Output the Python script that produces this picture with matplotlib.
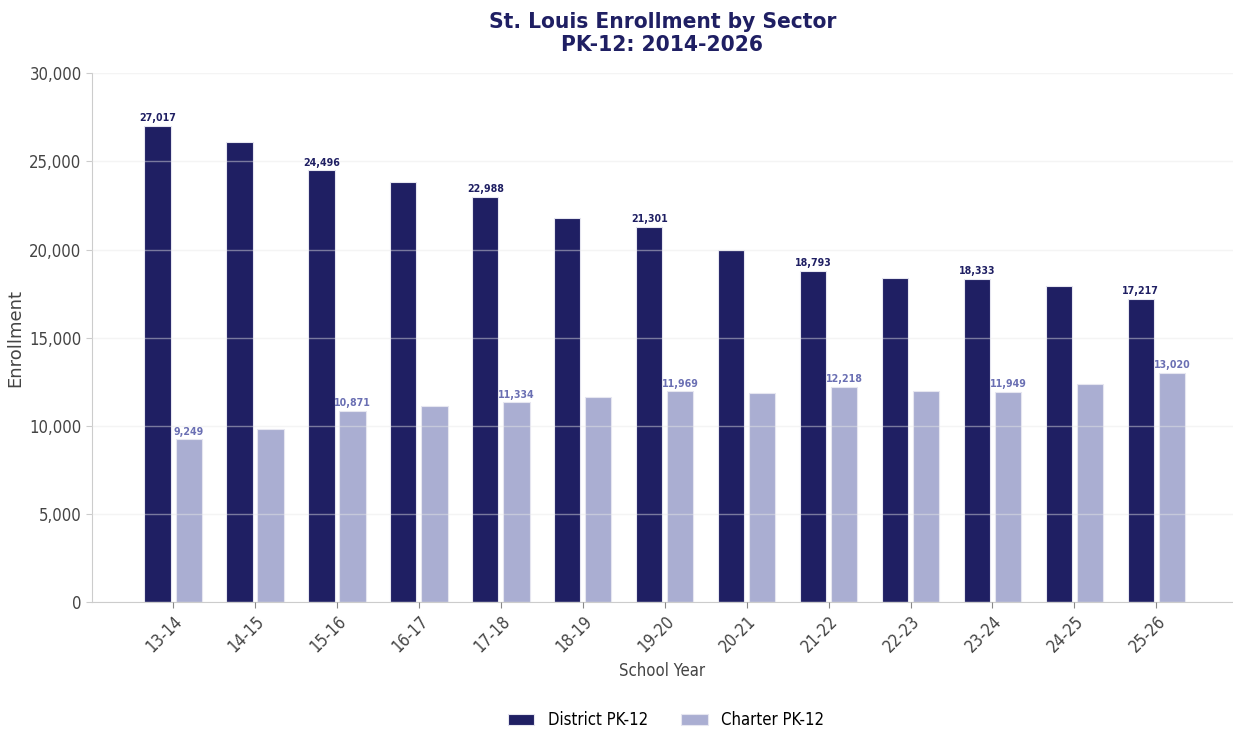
import matplotlib.pyplot as plt
import numpy as np
from matplotlib.ticker import FuncFormatter

plt.rcParams['font.family'] = ['DejaVu Sans']
plt.rcParams['font.stretch'] = 'condensed'

years = ["13-14", "14-15", "15-16", "16-17", "17-18", "18-19", "19-20",
         "20-21", "21-22", "22-23", "23-24", "24-25", "25-26"]
district = [27017, 26120, 24496, 23820, 22988, 21780, 21301,
            19990, 18793, 18360, 18333, 17960, 17217]
charter = [9249, 9810, 10871, 11120, 11334, 11630, 11969,
           11870, 12218, 11960, 11949, 12370, 13020]
labeled = [0, 2, 4, 6, 8, 10, 12]

navy = "#1f1f63"
lav = "#aaaed2"
lav_txt = "#6a6fb3"

fig = plt.figure(figsize=(12.33, 7.31), dpi=100)
ax = fig.add_axes([0.0746, 0.176, 0.925, 0.724])

x = np.arange(len(years))
w = 0.32
b1 = ax.bar(x - 0.19, district, w, color=navy, edgecolor="#e6e6f0", linewidth=0.8,
            label="District PK-12", zorder=2)
b2 = ax.bar(x + 0.19, charter, w, color=lav, edgecolor="#e6e6f0", linewidth=0.8,
            label="Charter PK-12", zorder=2)

for i in labeled:
    ax.text(x[i] - 0.19, district[i] + 150, f"{district[i]:,}", ha="center", va="bottom",
            fontsize=7.6, fontweight="bold", color=navy)
    ax.text(x[i] + 0.19, charter[i] + 150, f"{charter[i]:,}", ha="center", va="bottom",
            fontsize=7.6, fontweight="bold", color=lav_txt)

ax.set_ylim(0, 30000)
ax.set_xlim(-0.99, 12.93)
ax.set_yticks(range(0, 30001, 5000))
ax.yaxis.set_major_formatter(FuncFormatter(lambda v, p: f"{int(v):,}"))
ax.set_xticks(x)
ax.set_xticklabels(years, rotation=45, ha="right", rotation_mode="anchor")
ax.tick_params(axis="both", labelsize=12, colors="#444444", length=4)
ax.tick_params(axis="x", color="#888888")
ax.tick_params(axis="y", color="#cccccc")
ax.grid(axis="y", color="#e8e8e8", linewidth=1, zorder=3, alpha=0.45)
ax.set_axisbelow(False)
for s in ["top", "right"]:
    ax.spines[s].set_visible(False)
for s in ["left", "bottom"]:
    ax.spines[s].set_color("#cccccc")

ax.set_ylabel("Enrollment", fontsize=13, color="#444444", fontstretch="normal")
ax.set_xlabel("School Year", fontsize=12, color="#444444")
ax.set_title("St. Louis Enrollment by Sector\nPK-12: 2014-2026", fontsize=16.2,
             fontweight="bold", color=navy, linespacing=1.15, pad=16)

fig.legend(handles=[b1, b2], loc="lower center", ncol=2, frameon=False,
           fontsize=12, bbox_to_anchor=(0.54, -0.018), handlelength=1.6,
           handleheight=0.6, columnspacing=2.0)

plt.savefig("out.png", dpi=100)
